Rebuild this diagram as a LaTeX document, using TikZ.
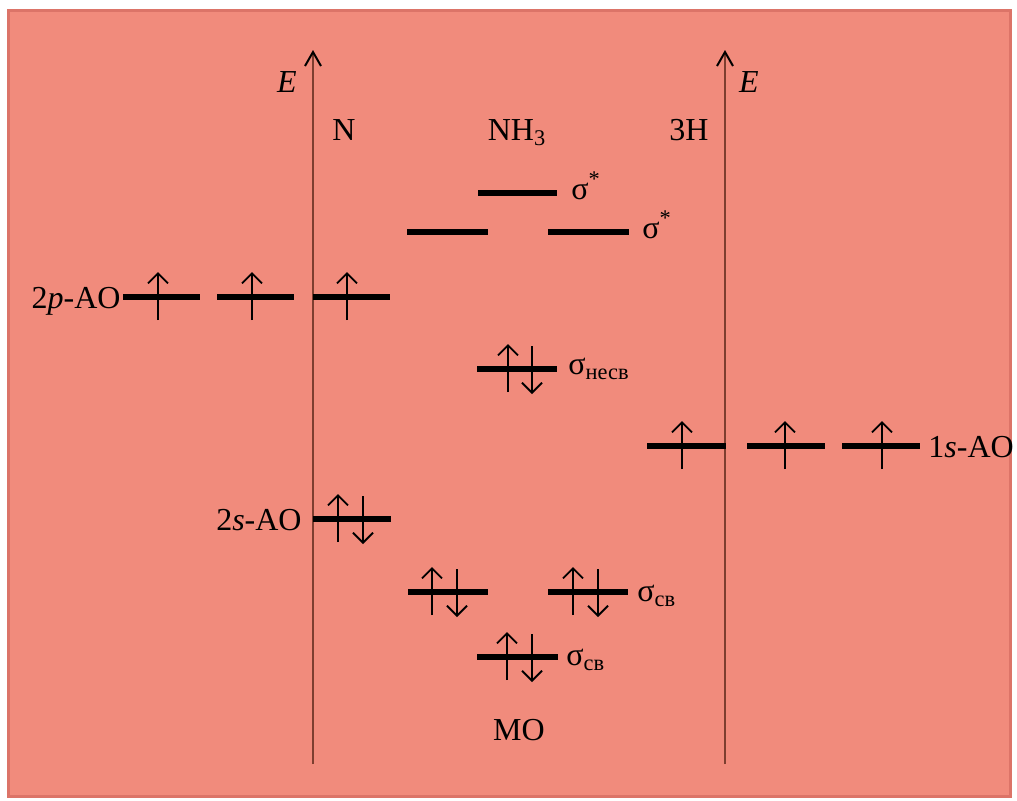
\documentclass[tikz,border=0pt]{standalone}
\usepackage{fontspec}
\setmainfont{Liberation Serif}
\usetikzlibrary{arrows.meta}
\definecolor{salmon}{RGB}{241,139,124}
\definecolor{salmonedge}{RGB}{220,116,104}
\definecolor{axisbrown}{RGB}{125,62,48}
\tikzset{
  lvl/.style={line width=3pt},
  spin/.style={line width=0.9pt,-{Straight Barb[length=5pt,width=10pt,line width=0.9pt]}},
  axis/.style={axisbrown,line width=1.4pt,-{Straight Barb[length=7pt,width=8pt,line width=1pt,color=black]}},
  lbl/.style={inner sep=0pt,font=\fontsize{16}{19}\selectfont},
}
\newcommand{\spinup}[2]{\draw[spin] (#1,#2+23) -- (#1,#2-25);}
\newcommand{\spindn}[2]{\draw[spin] (#1,#2-23) -- (#1,#2+25);}

\begin{document}
\begin{tikzpicture}[x=0.5pt,y=-0.5pt]
 \useasboundingbox (0,0) rectangle (1017,800);
 \fill[white] (0,0) rectangle (1017,800);
 \draw[fill=salmon,draw=salmonedge,line width=1.5pt] (8,10) rectangle (1010,796);
 % energy axes
 \coordinate (nlow) at (313,764);
 \coordinate (ntop) at (313,50);
 \coordinate (hlow) at (725,764);
 \coordinate (htop) at (725,50);
 \draw[axis] (nlow) -- (ntop);
 \draw[axis] (hlow) -- (htop);
 \node[lbl,anchor=base] (eleft) at (287,92) {\textit{E}};
 \node[lbl,anchor=base] (eright) at (749,92) {\textit{E}};
 \node[lbl,anchor=base] (natom) at (344,140) {N};
 \node[lbl,anchor=base] (nhmol) at (517,140) {NH\textsubscript{3}};
 \node[lbl,anchor=base] (hatom) at (689,140) {3H};
 \node[lbl,anchor=base] (molab) at (519,740) {MO};
 % N: 2p-AO
 \draw[lvl] (123,297) -- (200,297);
 \draw[lvl] (217,297) -- (294,297);
 \draw[lvl] (313,297) -- (390,297);
 \spinup{158}{297}
 \spinup{252}{297}
 \spinup{347}{297}
 \node[lbl,anchor=base east] (twop) at (121,308) {2\textit{p}-AO};
 % N: 2s-AO
 \draw[lvl] (313,519) -- (391,519);
 \spinup{338}{519}
 \spindn{363}{519}
 \node[lbl,anchor=base east] (twos) at (302,530) {2\textit{s}-AO};
 % 3H: 1s-AO
 \draw[lvl] (647,446) -- (726,446);
 \draw[lvl] (747,446) -- (825,446);
 \draw[lvl] (842,446) -- (920,446);
 \spinup{682}{446}
 \spinup{785}{446}
 \spinup{882}{446}
 \node[lbl,anchor=base west] (ones) at (928,457) {1\textit{s}-AO};
 % NH3: antibonding
 \draw[lvl] (478,193) -- (557,193);
 \node[lbl,anchor=base west] (astar) at (571,199) {σ\textsuperscript{*}};
 \draw[lvl] (407,232) -- (488,232);
 \draw[lvl] (548,232) -- (629,232);
 \node[lbl,anchor=base west] (bstar) at (642,238) {σ\textsuperscript{*}};
 % NH3: nonbonding
 \draw[lvl] (477,369) -- (557,369);
 \spinup{508}{369}
 \spindn{532}{369}
 \node[lbl,anchor=base west] (nonb) at (568,374) {σ\textsubscript{несв}};
 % NH3: bonding
 \draw[lvl] (408,592) -- (488,592);
 \draw[lvl] (548,592) -- (628,592);
 \spinup{432}{592}
 \spindn{457}{592}
 \spinup{573}{592}
 \spindn{598}{592}
 \node[lbl,anchor=base west] (bonda) at (637,601) {σ\textsubscript{св}};
 \draw[lvl] (477,657) -- (558,657);
 \spinup{507}{657}
 \spindn{532}{657}
 \node[lbl,anchor=base west] (bondb) at (566,665) {σ\textsubscript{св}};
\end{tikzpicture}
\end{document}
